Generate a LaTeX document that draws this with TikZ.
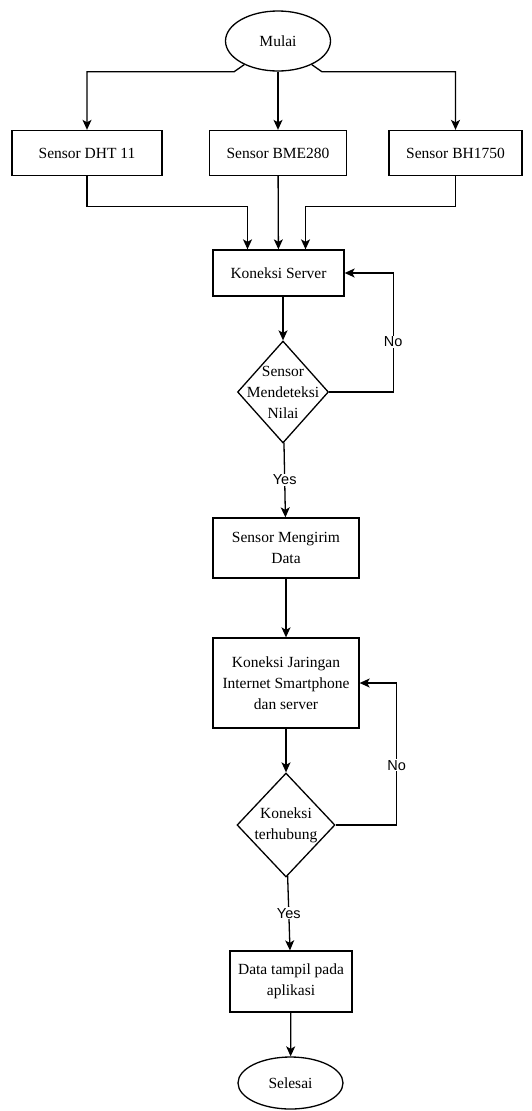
\documentclass[tikz,border=0pt]{standalone}
\usepackage{fontspec}
\setmainfont{Liberation Serif}
\newfontfamily\yesnofont{Liberation Sans}
\usepackage{tikz}
\usetikzlibrary{shapes}
\usetikzlibrary{arrows.meta}

\begin{document}
\begin{tikzpicture}[x=1pt,y=-1pt,line width=1.3pt,
		every node/.style={font=\fontsize{15.5}{21}\selectfont},
		terminal/.style={ellipse,draw,minimum width=105pt,minimum height=60pt,inner sep=0pt},
		process/.style={rectangle,draw,align=center,inner sep=0pt},
		decision/.style={diamond,draw,align=center,inner sep=-20pt},
		flow/.style={-{Stealth[length=10pt,width=9pt,inset=2.5pt]}},
		answer/.style={fill=white,font=\yesnofont\fontsize{14.5}{17}\selectfont,inner sep=1pt}]
		\useasboundingbox (0,0) rectangle (531,1111);
		\node[terminal] (mulai) at (278,41) {Mulai};
		\node[process,minimum width=150pt,minimum height=45pt] (dht) at (87,153) {Sensor DHT 11};
		\node[process,minimum width=137pt,minimum height=45pt] (bme) at (278,153) {Sensor BME280};
		\node[process,minimum width=133pt,minimum height=45pt] (bh) at (455.5,153) {Sensor BH1750};
		\node[process,minimum width=131pt,minimum height=46pt] (server) at (278.5,273) {Koneksi Server};
		\node[decision,minimum width=91pt,minimum height=102pt] (deteksi) at (283,392) {Sensor\\Mendeteksi\\Nilai};
		\node[process,minimum width=146pt,minimum height=60pt] (kirim) at (286,548) {Sensor Mengirim\\Data};
		\node[process,minimum width=146pt,minimum height=90pt] (jaringan) at (286,683) {Koneksi Jaringan\\Internet Smartphone\\dan server};
		\node[decision,minimum width=98pt,minimum height=104pt] (terhubung) at (286,825) {Koneksi\\terhubung};
		\node[process,minimum width=122pt,minimum height=61pt] (tampil) at (291,981.5) {Data tampil pada\\aplikasi};
		\node[terminal,minimum height=52pt] (selesai) at (290.5,1083) {Selesai};

		\draw[flow] (mulai.-145) -- ++(-10,7) -| (dht);
		\draw[flow] (mulai) -- (bme);
		\draw[flow] (mulai.-35) -- ++(10,7) -| (bh);
		\draw[flow] (dht.south) -- ++(0,30) -| ([xshift=-31pt]server.north);
		\draw[flow] (bme) -- (server);
		\draw[flow] (bh.south) -- ++(0,30) -| ([xshift=27pt]server.north);
		\draw[flow] (server.south -| deteksi) -- (deteksi);
		\draw[flow] (deteksi.east) -- ++(64,0) |- (server.east) node[answer,pos=0.21] {No};
		\draw[flow] (deteksi) -- (kirim) node[answer,midway] {Yes};
		\draw[flow] (kirim) -- (jaringan);
		\draw[flow] (jaringan) -- (terhubung);
		\draw[flow] (terhubung.east) -- ++(61,0) |- (jaringan.east) node[answer,pos=0.21] {No};
		\draw[flow] (terhubung) -- (tampil) node[answer,midway] {Yes};
		\draw[flow] (tampil) -- (selesai);
\end{tikzpicture}
\end{document}
